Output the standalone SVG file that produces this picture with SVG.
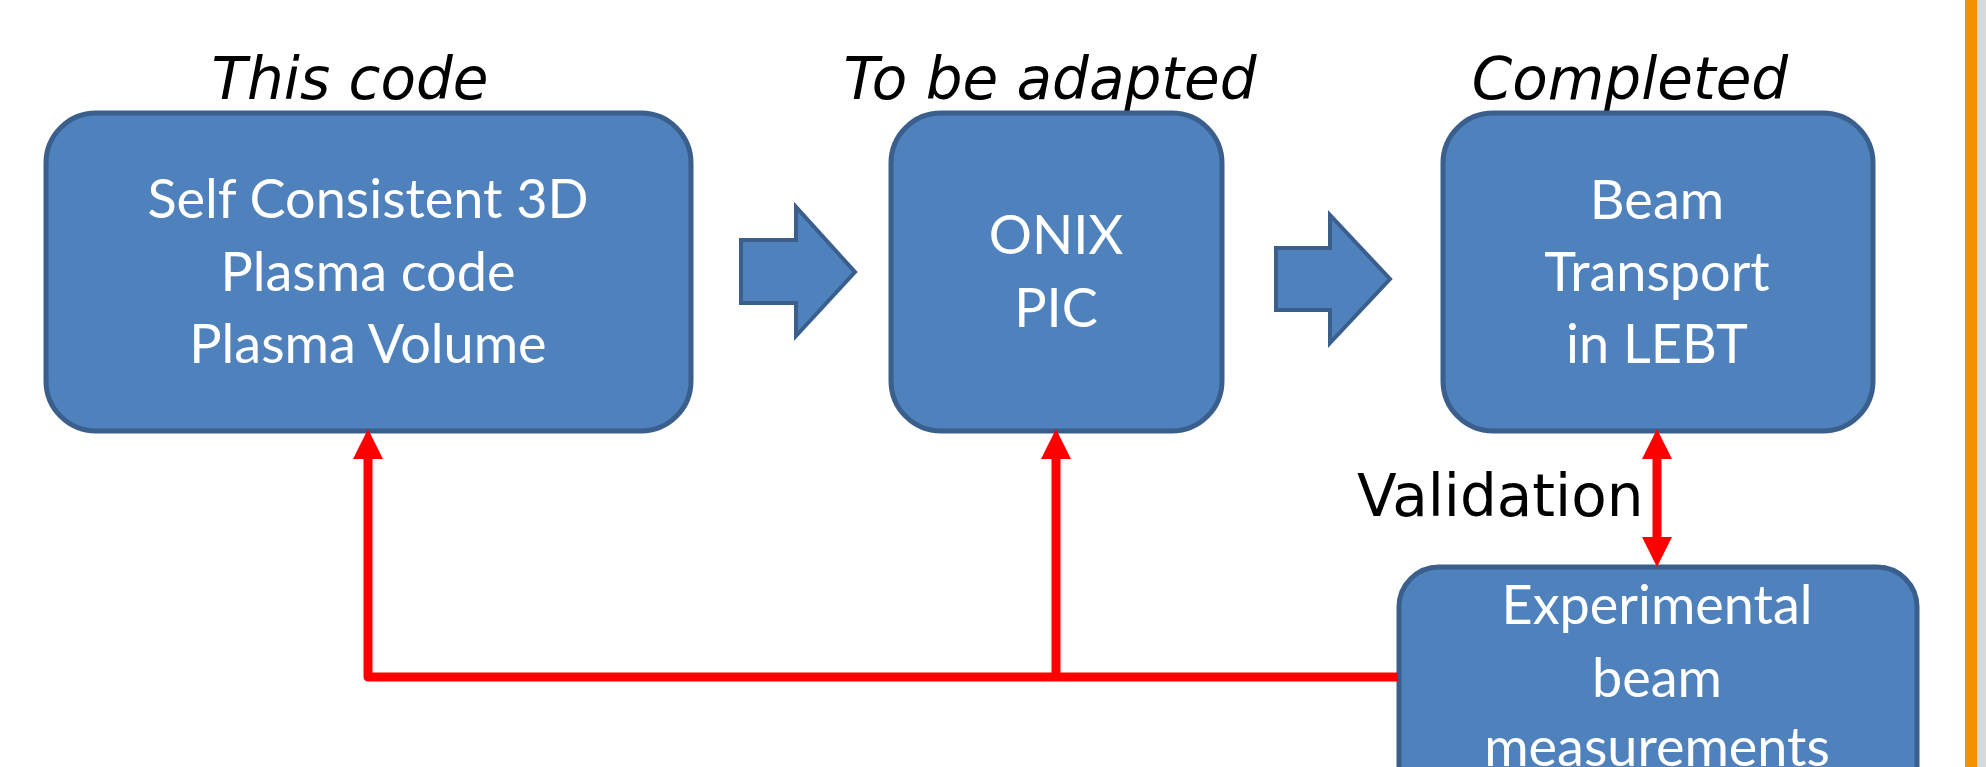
<svg xmlns="http://www.w3.org/2000/svg" width="1986" height="767" viewBox="0 0 1986 767">
  <style>
    .box { fill: #4F81BD; stroke: #3A5F8D; stroke-width: 5; }
    .block { fill: #4F81BD; stroke: #3A5F8D; stroke-width: 4; stroke-linejoin: miter; }
    .label { font-family: Lato, "Open Sans", sans-serif; font-size: 54px; fill: #FFFFFF; text-anchor: middle; }
    .head { font-family: "DejaVu Sans", Verdana, sans-serif; font-style: italic; font-size: 58px; fill: #000000; text-anchor: middle; }
    .note { font-family: "DejaVu Sans", Verdana, sans-serif; font-size: 58px; fill: #000000; }
    .link { fill: none; stroke: #FF0000; stroke-width: 9; stroke-linejoin: round; }
  </style>
  <defs>
    <marker id="redHead" viewBox="0 0 30 30" refX="0" refY="15" markerWidth="30" markerHeight="30" markerUnits="userSpaceOnUse" orient="auto-start-reverse">
      <path d="M0,0 L30,15 L0,30 Z" fill="#FF0000"/>
    </marker>
  </defs>

  <rect x="0" y="0" width="1986" height="767" fill="#FFFFFF"/>

  <!-- side rule -->
  <rect x="1965" y="0" width="12" height="767" fill="#F39200"/>
  <rect x="1977" y="0" width="9" height="767" fill="#D9D9D9"/>

  <!-- stage headings -->
  <text class="head" x="350" y="99">This code</text>
  <text class="head" x="1050" y="99">To be adapted</text>
  <text class="head" x="1630" y="99">Completed</text>

  <g id="plasma-code">
    <rect class="box" x="46" y="113" width="645" height="318" rx="50" ry="50"/>
    <text class="label" x="368" y="218">Self Consistent 3D</text>
    <text class="label" x="368" y="291">Plasma code</text>
    <text class="label" x="368" y="363">Plasma Volume</text>
  </g>

  <g id="onix-pic">
    <rect class="box" x="891" y="113" width="331" height="318" rx="50" ry="50"/>
    <text class="label" x="1056" y="254">ONIX</text>
    <text class="label" x="1056" y="327">PIC</text>
  </g>

  <g id="beam-transport">
    <rect class="box" x="1443" y="113" width="430" height="318" rx="50" ry="50"/>
    <text class="label" x="1657" y="219">Beam</text>
    <text class="label" x="1657" y="291">Transport</text>
    <text class="label" x="1657" y="363">in LEBT</text>
  </g>

  <g id="measurements">
    <rect class="box" x="1399" y="567" width="518" height="260" rx="40" ry="40"/>
    <text class="label" x="1657" y="624">Experimental</text>
    <text class="label" x="1657" y="697">beam</text>
    <text class="label" x="1657" y="766">measurements</text>
  </g>

  <g id="connectors">
    <!-- block arrows between stages -->
    <polygon class="block" points="741,240 796,240 796,207 855,272 796,336 796,303 741,303"/>
    <polygon class="block" points="1276,248 1330,248 1330,215 1390,279 1330,343 1330,310 1276,310"/>
    <!-- feedback from measurements -->
    <path class="link" d="M1398,677 H368 V459" marker-end="url(#redHead)"/>
    <path class="link" d="M1056,677 V459" marker-end="url(#redHead)"/>
    <!-- validation link -->
    <path class="link" d="M1657,537 V459" marker-start="url(#redHead)" marker-end="url(#redHead)"/>
    <text class="note" x="1357" y="516">Validation</text>
  </g>
</svg>
